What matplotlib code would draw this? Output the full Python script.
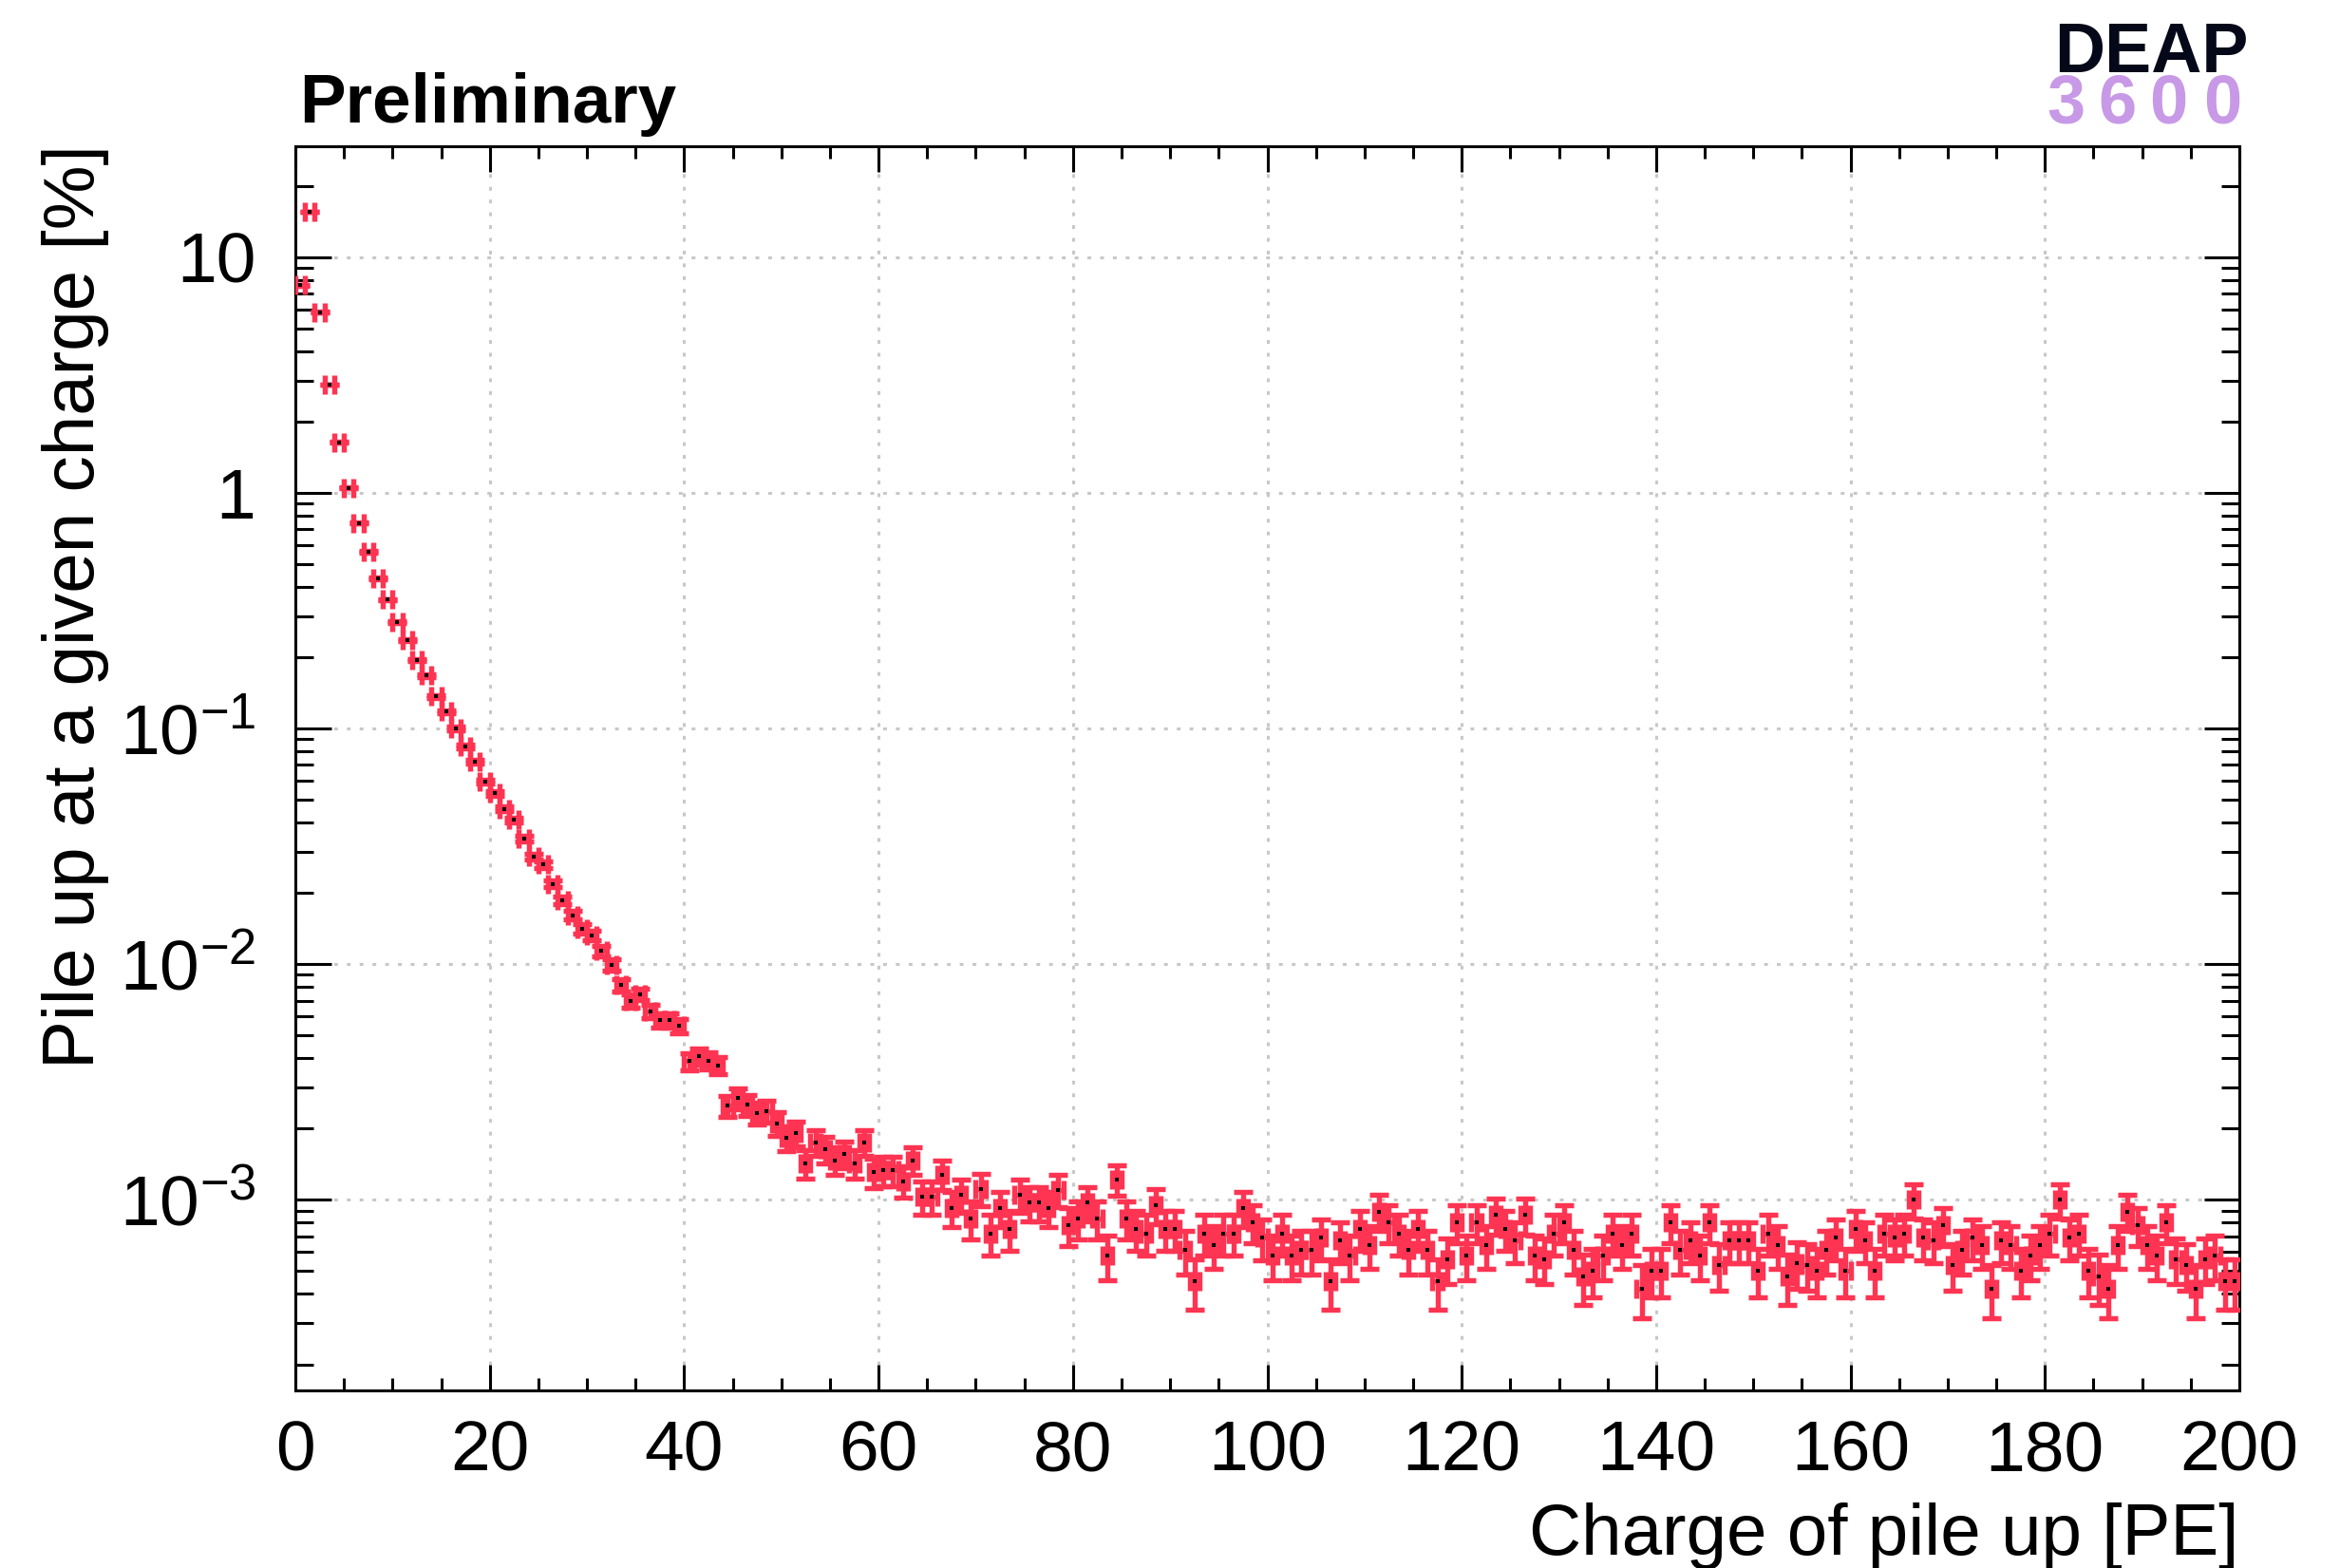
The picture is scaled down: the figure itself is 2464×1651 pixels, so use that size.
import numpy as np
import matplotlib
matplotlib.use('Agg')
import matplotlib.pyplot as plt
from matplotlib.ticker import FixedLocator, FixedFormatter, MultipleLocator

plt.rcParams['font.family'] = ['Liberation Sans', 'DejaVu Sans']
plt.rcParams['mathtext.fontset'] = 'custom'
plt.rcParams['mathtext.rm'] = 'Liberation Sans'
plt.rcParams['mathtext.it'] = 'Liberation Sans:italic'
plt.rcParams['mathtext.bf'] = 'Liberation Sans:bold'

# Pile-up charge spectrum, 1 PE bins from 0 to 200 PE, in % of events
bin_edges = np.arange(0, 201, 1.0)
pile_up_pct = [
    7.6, 15.6, 5.85, 2.88, 1.64, 1.05, 0.746, 0.562, 0.434, 0.352,
    0.284, 0.237, 0.195, 0.168, 0.137, 0.118, 0.100, 0.0836, 0.0724, 0.0596,
    0.0531, 0.0456, 0.0409, 0.0340, 0.0286, 0.0265, 0.0219, 0.0186, 0.0161, 0.0141,
    0.0132, 0.01138, 0.00994, 0.00815, 0.00699, 0.00745, 0.00630, 0.00577, 0.00577, 0.00546,
    0.00387, 0.00406, 0.00390, 0.00372, 0.00250, 0.00270, 0.00253, 0.00233, 0.00237, 0.00211,
    0.00183, 0.00191, 0.00142, 0.00175, 0.00164, 0.00147, 0.00156, 0.00142, 0.00175, 0.00131,
    0.00133, 0.00133, 0.00120, 0.00147, 0.00103, 0.00103, 0.00128, 0.00092, 0.00105, 0.00083,
    0.00111, 0.00072, 0.00092, 0.00075, 0.00105, 0.00097, 0.00097, 0.00092, 0.00110, 0.00078,
    0.00083, 0.00097, 0.00083, 0.00058, 0.00122, 0.00083, 0.00075, 0.00072, 0.00095, 0.00075,
    0.00075, 0.00061, 0.00045, 0.00072, 0.00064, 0.00072, 0.00072, 0.00092, 0.00080, 0.00069,
    0.00058, 0.00072, 0.00058, 0.00061, 0.00061, 0.00069, 0.00045, 0.00067, 0.00058, 0.00075,
    0.00064, 0.00089, 0.00080, 0.00072, 0.00061, 0.00075, 0.00061, 0.00045, 0.00056, 0.00080,
    0.00058, 0.00080, 0.00064, 0.00086, 0.00075, 0.00067, 0.00086, 0.00058, 0.00056, 0.00072,
    0.00080, 0.00061, 0.00047, 0.00050, 0.00058, 0.00072, 0.00064, 0.00072, 0.00042, 0.00050,
    0.00050, 0.00080, 0.00061, 0.00067, 0.00058, 0.00080, 0.00053, 0.00067, 0.00067, 0.00067,
    0.00050, 0.00072, 0.00064, 0.00047, 0.00054, 0.00053, 0.00050, 0.00061, 0.00069, 0.00050,
    0.00075, 0.00067, 0.00050, 0.00072, 0.00069, 0.00072, 0.00100, 0.00069, 0.00067, 0.00078,
    0.00053, 0.00061, 0.00069, 0.00064, 0.00042, 0.00067, 0.00064, 0.00050, 0.00058, 0.00064,
    0.00072, 0.00100, 0.00069, 0.00072, 0.00050, 0.00047, 0.00042, 0.00064, 0.00089, 0.00078,
    0.00064, 0.00058, 0.00080, 0.00056, 0.00053, 0.00042, 0.00056, 0.00058, 0.00045, 0.00045,
]
n_events = 3.7e6  # total events, sets the Poisson errors

y_major = [1e-3, 1e-2, 1e-1, 1, 10]
y_major_labels = [r'$10^{-3}$', r'$10^{-2}$', r'$10^{-1}$', '1', '10']

red = '#fe3452'

pct = np.array(pile_up_pct)
centers = 0.5 * (bin_edges[:-1] + bin_edges[1:])
half_width = 0.5 * np.diff(bin_edges)
err = np.sqrt(pct * 100.0 / n_events)

W, H = 2464, 1651
fig = plt.figure(figsize=(W / 100, H / 100), dpi=100)
ax = fig.add_axes([311 / W, (H - 1464) / H, (2358 - 311) / W, (1464 - 154) / H])

ax.errorbar(centers, pct, xerr=half_width, yerr=err, fmt='none', ecolor=red,
            elinewidth=3.9, capsize=7, capthick=3.9, zorder=3)
ax.plot(centers, pct, 's', color='black', markersize=2.6, markeredgewidth=0, zorder=4)

ax.set_yscale('log')
ax.set_xlim(0, 200)
ax.set_ylim(1.55e-4, 29.6)

ax.xaxis.set_major_locator(MultipleLocator(20))
ax.xaxis.set_minor_locator(MultipleLocator(5))
ax.yaxis.set_major_locator(FixedLocator(y_major))
ax.yaxis.set_major_formatter(FixedFormatter(y_major_labels))
minor = [m * 10.0 ** e for e in range(-4, 2) for m in range(2, 10)]
ax.yaxis.set_minor_locator(FixedLocator(minor))
ax.yaxis.set_minor_formatter(FixedFormatter([''] * len(minor)))

ax.tick_params(which='both', direction='in', top=True, right=True, width=2.2,
               colors='black')
ax.tick_params(axis='x', which='major', length=19.5, pad=22, labelsize=54)
ax.tick_params(axis='x', which='minor', length=9.5)
ax.tick_params(axis='y', which='major', length=27, pad=30, labelsize=54)
ax.tick_params(axis='y', which='minor', length=14)
for s in ax.spines.values():
    s.set_linewidth(2.2)

ax.set_axisbelow(True)
ax.grid(which='major', color='#c8c8c8', linestyle=(0, (1.3, 3.1)), linewidth=2.2)

fig.text(2358 / W, 14 / H, 'Charge of pile up [PE]', ha='right', va='baseline', fontsize=55)
fig.text(44 / W, 1 - 152 / H, 'Pile up at a given charge [%]', rotation=90,
         ha='left', va='top', fontsize=55)
fig.text(315 / W, 1 - 129 / H, 'Preliminary', ha='left', va='baseline',
         fontsize=52.5, fontweight='bold')

# experiment logo, the digits spaced out under the name
fig.text(2368 / W, 1 - 76 / H, 'DEAP', ha='right', va='baseline', fontsize=53,
         fontweight='bold', color='#050818')
for ch, xp in zip('3600', [2175, 2229, 2283, 2340]):
    fig.text(xp / W, 1 - 130 / H, ch, ha='center', va='baseline', fontsize=52,
             fontweight='bold', color='#c899e6')

fig.savefig('out.png', dpi=100)
